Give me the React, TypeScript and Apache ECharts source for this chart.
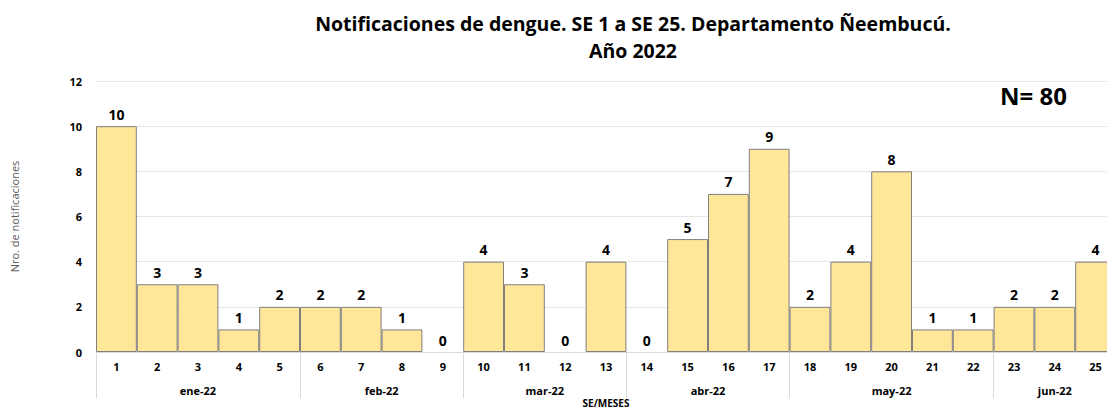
import React, { useEffect, useRef } from "react";
import * as echarts from "echarts";

const weeks = ["1","2","3","4","5","6","7","8","9","10","11","12","13","14","15","16","17","18","19","20","21","22","23","24","25"];
const values = [10, 3, 3, 1, 2, 2, 2, 1, 0, 4, 3, 0, 4, 0, 5, 7, 9, 2, 4, 8, 1, 1, 2, 2, 4];
const monthLabels = ["ene-22", "feb-22", "mar-22", "abr-22", "may-22", "jun-22"];
const monthStart = [0, 5, 9, 13, 17, 22];
const monthEnd = [4, 8, 12, 16, 21, 24];
const titleText = "Notificaciones de dengue. SE 1 a SE 25. Departamento Ñeembucú.\nAño 2022";
const totalText = "N= 80";

const FONT = "'Open Sans', 'Noto Sans', sans-serif";

export default function App() {
  const ref = useRef<HTMLDivElement>(null);
  useEffect(() => {
    if (!ref.current) return;
    const chart = echarts.init(ref.current, null, { renderer: "svg" });
    const monthData = monthLabels.map((m, i) => [monthStart[i], monthEnd[i], m]);
    const barData = values.map((v) => ({
      value: v,
      itemStyle: v === 0 ? { borderWidth: 0 } : undefined,
    }));
    chart.setOption({
      animation: false,
      textStyle: { fontFamily: FONT },
      title: {
        text: titleText,
        left: 628,
        textAlign: "center",
        top: 5,
        textStyle: { fontSize: 19.5, fontWeight: "bold", color: "#000", lineHeight: 27, fontFamily: FONT },
      },
      graphic: [
        {
          type: "text",
          left: 1000,
          top: 83,
          style: { text: totalText, fontSize: 24, fontWeight: "bold", fill: "#000", fontFamily: FONT },
        },
      ],
      grid: { left: 96, width: 1020, top: 81, height: 271, containLabel: false, outerBoundsMode: "none" },
      xAxis: {
        type: "category",
        data: weeks,
        boundaryGap: true,
        name: "SE/MESES",
        nameLocation: "middle",
        nameGap: 46,
        nameTextStyle: { fontSize: 10, fontWeight: "bold", color: "#000", fontFamily: FONT },
        axisLine: { show: true, lineStyle: { color: "#d9d9d9", width: 1 } },
        axisTick: {
          show: true,
          length: 46,
          interval: (idx: number) => monthStart.indexOf(idx) >= 0,
          lineStyle: { color: "#d9d9d9", width: 1 },
        },
        axisLabel: { fontSize: 11, fontWeight: "bold", color: "#000", margin: 9, interval: 0 },
      },
      yAxis: {
        type: "value",
        min: 0,
        max: 12,
        interval: 2,
        name: "Nro. de notificaciones",
        nameLocation: "middle",
        nameGap: 76,
        nameRotate: 90,
        nameTextStyle: { fontSize: 11, color: "#595959", fontFamily: FONT },
        axisLine: { show: false },
        axisTick: { show: false },
        axisLabel: { fontSize: 11, fontWeight: "bold", color: "#000", margin: 14 },
        splitLine: { lineStyle: { color: "#e6e6e6", width: 1 } },
      },
      series: [
        {
          type: "bar",
          data: barData,
          barCategoryGap: "0%",
          itemStyle: { color: "#FFE699", borderColor: "#7f7f7f", borderWidth: 1 },
          label: {
            show: true,
            position: "top",
            distance: 5,
            fontSize: 14,
            fontWeight: "bold",
            color: "#000",
            fontFamily: FONT,
          },
        },
        {
          type: "custom",
          data: monthData,
          encode: { x: 0 },
          clip: false,
          silent: true,
          renderItem: (params: any, api: any) => {
            const s = api.value(0);
            const e = api.value(1);
            const p1 = api.coord([s, 0]);
            const p2 = api.coord([e, 0]);
            const label = monthLabels[params.dataIndex];
            return {
              type: "text",
              style: {
                text: label,
                x: (p1[0] + p2[0]) / 2,
                y: p1[1] + 38,
                textAlign: "center",
                textVerticalAlign: "middle",
                fontSize: 11,
                fontWeight: "bold",
                fill: "#000",
                fontFamily: FONT,
              },
            };
          },
        },
      ],
    });
    return () => chart.dispose();
  }, []);
  return <div ref={ref} style={{ width: 1107, height: 412, position: "absolute", left: 0, top: 0 }} />;
}
